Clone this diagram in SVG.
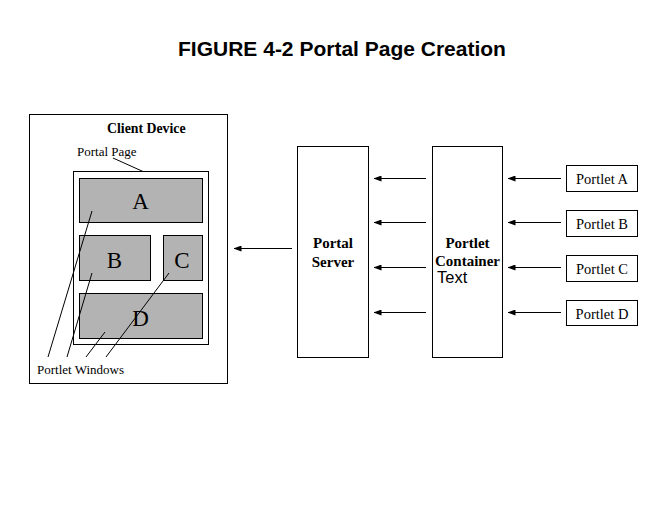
<svg xmlns="http://www.w3.org/2000/svg" width="660" height="506" viewBox="0 0 660 506">
<style>
.box{fill:#fff;stroke:#000;stroke-width:1}
.win{fill:#b3b3b3;stroke:#000;stroke-width:1}
.lead{stroke:#000;stroke-width:1;fill:none}
.conn{stroke:#000;stroke-width:1;fill:none;marker-end:url(#ah)}
.serif{font-family:"Liberation Serif","Times New Roman",serif;fill:#000}
.bold{font-weight:bold}
.big{font-size:23px;text-anchor:middle}
.lab{font-size:14.5px}
</style>
<defs>
<marker id="ah" viewBox="0 0 8 6" refX="7.5" refY="3" markerWidth="8" markerHeight="6" markerUnits="userSpaceOnUse" orient="auto">
<path d="M0,0 L8,3 L0,6 Z" fill="#000"/>
</marker>
</defs>
<rect width="660" height="506" fill="#fff"/>
<text x="342" y="56" text-anchor="middle" font-family="'Liberation Sans',Arial,sans-serif" font-weight="bold" font-size="21">FIGURE 4-2 Portal Page Creation</text>

<g id="client-device">
<rect class="box" x="29.5" y="114.5" width="198" height="269"/>
<text class="serif bold" x="107" y="133" font-size="13.8">Client Device</text>
<text class="serif" x="77" y="156" font-size="13">Portal Page</text>
<line class="lead" x1="113" y1="158" x2="143" y2="171.5"/>
</g>
<g id="portal-page">
<rect class="box" x="73.5" y="171.5" width="135" height="173"/>
</g>
<g id="window-a">
<rect class="win" x="79.5" y="178.5" width="123" height="44"/>
<text class="serif big" x="140.5" y="209">A</text>
</g>
<g id="window-b">
<rect class="win" x="79.5" y="235.5" width="71" height="45"/>
<text class="serif big" x="114.5" y="268">B</text>
</g>
<g id="window-c">
<rect class="win" x="163.5" y="235.5" width="39" height="45"/>
<text class="serif big" x="182" y="268">C</text>
</g>
<g id="window-d">
<rect class="win" x="79.5" y="293.5" width="123" height="45"/>
<text class="serif big" x="140.5" y="326">D</text>
</g>
<g id="portlet-windows">
<text class="serif" x="37" y="374" font-size="13">Portlet Windows</text>
<line class="lead" x1="48" y1="357" x2="92" y2="211"/>
<line class="lead" x1="67" y1="357" x2="92" y2="273"/>
<line class="lead" x1="86" y1="357" x2="105" y2="332"/>
<line class="lead" x1="106" y1="357" x2="169" y2="273"/>
</g>

<g id="portal-server">
<rect class="box" x="297.5" y="146.5" width="71" height="211"/>
<text class="serif bold" x="333" y="248" font-size="15" text-anchor="middle">Portal</text>
<text class="serif bold" x="333" y="267" font-size="15" text-anchor="middle">Server</text>
</g>
<g id="portlet-container">
<rect class="box" x="432.5" y="146.5" width="70" height="211"/>
<text class="serif bold" x="467.5" y="248" font-size="15" text-anchor="middle">Portlet</text>
<text class="serif bold" x="467.5" y="266" font-size="15" text-anchor="middle">Container</text>
<text x="437" y="283" font-family="'Liberation Sans',Arial,sans-serif" font-size="16.5">Text</text>
</g>
<g id="portlet-a">
<rect class="box" x="566.5" y="165.5" width="71" height="26"/>
<text class="serif lab" x="602" y="184" text-anchor="middle">Portlet A</text>
</g>
<g id="portlet-b">
<rect class="box" x="566.5" y="210.5" width="71" height="26"/>
<text class="serif lab" x="602" y="229" text-anchor="middle">Portlet B</text>
</g>
<g id="portlet-c">
<rect class="box" x="566.5" y="255.5" width="71" height="26"/>
<text class="serif lab" x="602" y="274" text-anchor="middle">Portlet C</text>
</g>
<g id="portlet-d">
<rect class="box" x="566.5" y="300.5" width="71" height="25"/>
<text class="serif lab" x="602" y="319" text-anchor="middle">Portlet D</text>
</g>

<g id="connectors">
<line class="conn" x1="292" y1="248.5" x2="234" y2="248.5"/>
<line class="conn" x1="426" y1="178.5" x2="374" y2="178.5"/>
<line class="conn" x1="426" y1="222.5" x2="374" y2="222.5"/>
<line class="conn" x1="426" y1="267.5" x2="374" y2="267.5"/>
<line class="conn" x1="426" y1="312.5" x2="374" y2="312.5"/>
<line class="conn" x1="561" y1="178.5" x2="508" y2="178.5"/>
<line class="conn" x1="561" y1="222.5" x2="508" y2="222.5"/>
<line class="conn" x1="561" y1="267.5" x2="508" y2="267.5"/>
<line class="conn" x1="561" y1="312.5" x2="508" y2="312.5"/>
</g>
</svg>
